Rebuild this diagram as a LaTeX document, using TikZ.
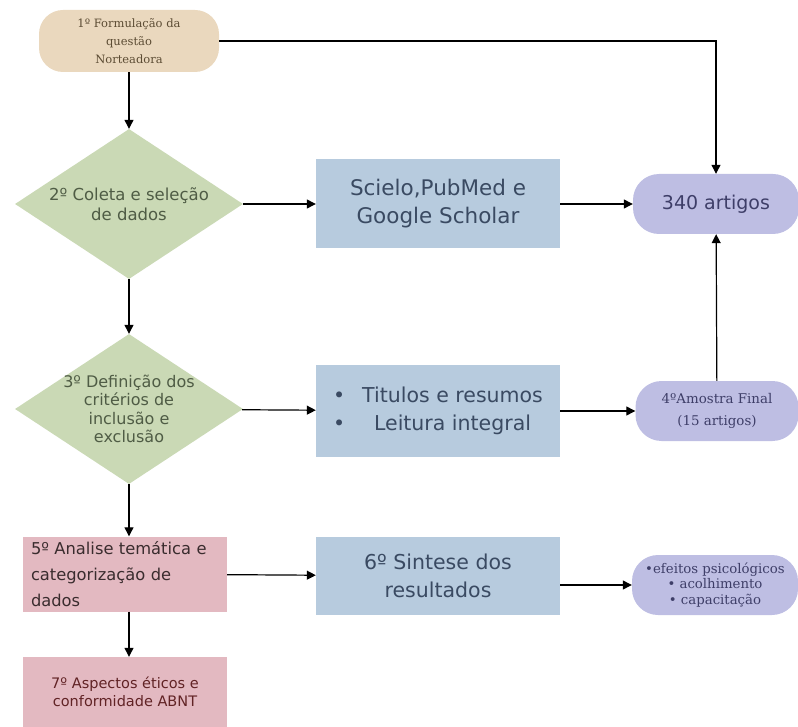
\documentclass[tikz,border=0pt]{standalone}
\usepackage{fontspec}
\setmainfont{DejaVu Serif}
\newfontfamily\vsans{DejaVu Sans}
\usepackage{xcolor}
\usetikzlibrary{arrows.meta,positioning,shapes.geometric}
\definecolor{tanfill}{HTML}{EAD8BE}
\definecolor{tantext}{HTML}{5C4C34}
\definecolor{sagefill}{HTML}{CAD9B5}
\definecolor{sagetext}{HTML}{4F5C45}
\definecolor{bluefill}{HTML}{B7CBDE}
\definecolor{bluetext}{HTML}{3A4A62}
\definecolor{lavfill}{HTML}{BEBEE3}
\definecolor{lavtext}{HTML}{3E3E68}
\definecolor{pinkfill}{HTML}{E3B9C1}
\definecolor{pinktext}{HTML}{3A2C2E}
\tikzset{
  >={Triangle[length=9pt,width=9pt]},
  inicio/.style={fill=tanfill, rounded corners=24pt, align=center, text=tantext, font=\fontsize{11.5}{18}\selectfont, minimum width=180pt, minimum height=62pt, inner sep=2pt},
  decisao/.style={diamond, aspect=1.52, fill=sagefill, align=center, text=sagetext, minimum width=228pt, minimum height=150pt, inner sep=-3pt},
  fonte/.style={fill=bluefill, align=center, text=bluetext, font=\vsans\fontsize{20.5}{28}\selectfont, minimum width=244pt, inner sep=2pt},
  saida/.style={fill=lavfill, rounded corners=26pt, align=center, text=lavtext, minimum height=60pt, inner sep=2pt},
  etapa/.style={fill=pinkfill, text=pinktext, minimum width=204pt, inner sep=3pt},
  flow/.style={->, line width=1.2pt},
}
\begin{document}
\begin{tikzpicture}[x=1pt, y=-1pt]
  \useasboundingbox (0,0) rectangle (798,727);
  \node[inicio] (quest) at (129,41) {1º Formulação da\\questão\\Norteadora};
  \node[decisao, font=\vsans\fontsize{16.5}{20}\selectfont] (coleta) at (129,204) {2º Coleta e seleção\\de dados};
  \node[decisao, font=\vsans\fontsize{16}{18.5}\selectfont] (crit) at (129,409) {3º Definição dos\\critérios de\\inclusão e\\exclusão};
  \node[fonte, minimum height=89pt, font=\vsans\fontsize{21.5}{28}\selectfont] (bases) at (438,204) {Scielo,PubMed e\\Google Scholar};
  \node[fonte, minimum height=92pt] (leit) at (438,411)
    {\begin{tabular}{@{}l@{\hspace{17pt}}c@{}}\textbullet & Titulos e resumos\\ \textbullet & Leitura integral\end{tabular}};
  \node[fonte, minimum height=78pt] (sint) at (438,576) {6º Sintese dos\\resultados};
  \node[saida, minimum width=166pt, font=\vsans\fontsize{19}{22}\selectfont] (total) at (716,204) {340 artigos};
  \node[saida, minimum width=163pt, font=\fontsize{13.4}{22}\selectfont] (amostra) at (717,411) {4ºAmostra Final\\(15 artigos)};
  \node[saida, minimum width=166pt, font=\fontsize{13.3}{15.5}\selectfont] (efeitos) at (715,585) {•efeitos psicológicos\\• acolhimento\\• capacitação};
  \node[etapa, minimum height=75pt, align=left, inner xsep=8pt, text width=188pt, font=\vsans\fontsize{16.3}{26}\selectfont] (anal) at (125,574) {5º Analise temática e\\categorização de\\dados};
  \node[etapa, minimum height=70pt, align=center, font=\vsans\fontsize{14.5}{18}\selectfont, text=pinktext!80!red] (etica) at (125,692) {7º Aspectos éticos e\\conformidade ABNT};
  \draw[flow] (quest) -- (coleta);
  \draw[flow] (quest) -| (total);
  \draw[flow] (coleta) -- (bases);
  \draw[flow] (bases) -- (total);
  \draw[flow] (coleta) -- (crit);
  \draw[flow] (crit) -- (leit);
  \draw[flow] (leit) -- (amostra);
  \draw[flow] (amostra) -- (total);
  \draw[flow] (crit.south) -- (crit.south |- anal.north);
  \draw[flow] (anal) -- (sint);
  \draw[flow] (sint.east |- efeitos) -- (efeitos);
  \draw[flow] (anal.south -| crit.south) -- (etica.north -| crit.south);
\end{tikzpicture}
\end{document}
